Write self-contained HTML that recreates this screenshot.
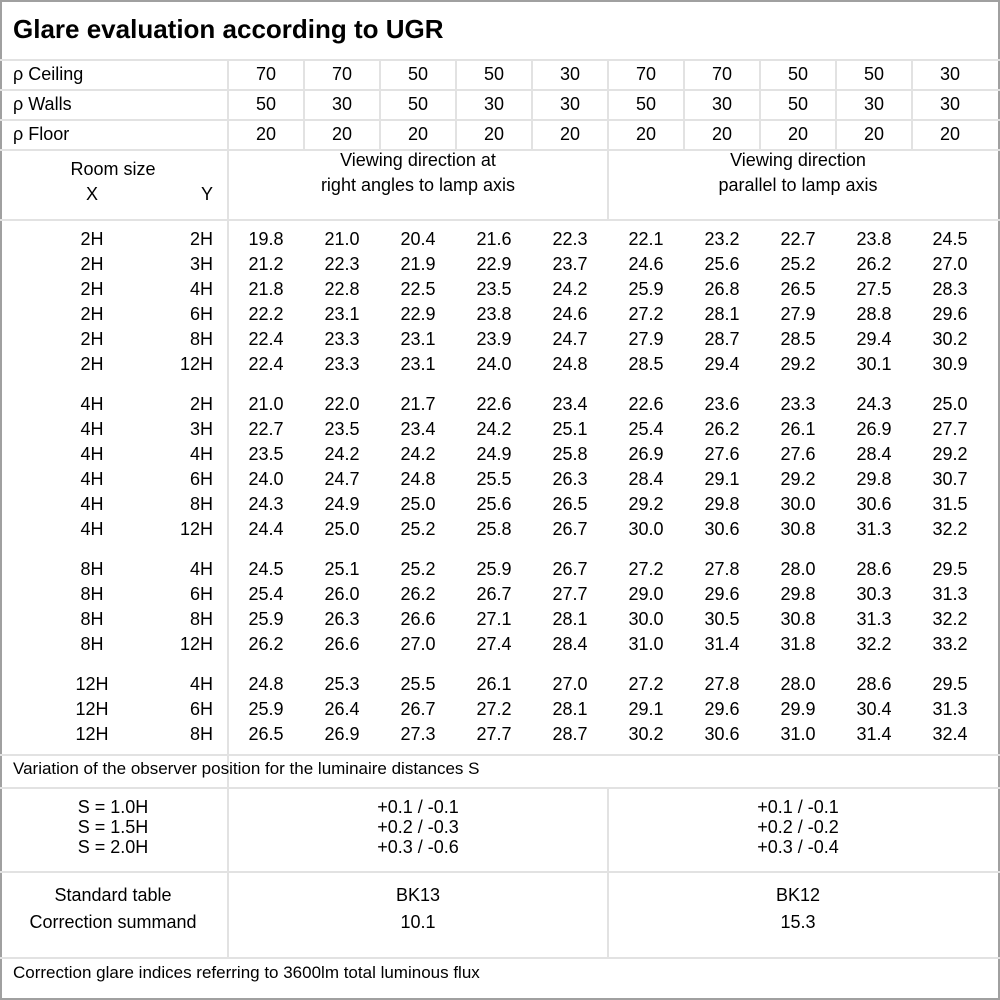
<!DOCTYPE html>
<html><head><meta charset="utf-8"><style>
body{margin:0;background:#fff}
#w{position:relative;width:1000px;height:1000px;overflow:hidden;font-family:"Liberation Sans","DejaVu Sans",sans-serif;font-size:18px;color:#000;background:#fff}
.h{position:absolute;left:0;width:1000px;height:2px;background:#e2e2e2}
.v{position:absolute;width:2px;background:#e2e2e2}
.t{position:absolute;white-space:nowrap;line-height:20px}
.r{position:absolute;left:228px;white-space:nowrap;line-height:20px}
.r span{display:inline-block;width:76px;text-align:center}
.x{position:absolute;left:52px;width:80px;text-align:center;line-height:20px}
.y{position:absolute;left:150px;width:63px;text-align:right;line-height:20px}
.c{position:absolute;text-align:center;line-height:20px}
</style></head><body><div id="w">
<div style="position:absolute;left:0;top:0;width:996px;height:996px;border:2px solid #a0a0a0"></div>
<div class="t" style="left:13px;top:14px;font-size:26px;font-weight:bold;line-height:30px">Glare evaluation according to UGR</div>
<div class="h" style="top:59px"></div><div class="h" style="top:89px"></div><div class="h" style="top:119px"></div><div class="h" style="top:149px"></div><div class="h" style="top:219px"></div>
<div class="h" style="top:754px"></div><div class="h" style="top:787px"></div><div class="h" style="top:871px"></div><div class="h" style="top:957px"></div>
<div class="v" style="left:227px;top:60px;height:898px"></div>
<div class="v" style="left:607px;top:60px;height:160px"></div>
<div class="v" style="left:607px;top:788px;height:170px"></div>
<div class="v" style="left:303px;top:60px;height:90px"></div><div class="v" style="left:379px;top:60px;height:90px"></div><div class="v" style="left:455px;top:60px;height:90px"></div><div class="v" style="left:531px;top:60px;height:90px"></div><div class="v" style="left:683px;top:60px;height:90px"></div><div class="v" style="left:759px;top:60px;height:90px"></div><div class="v" style="left:835px;top:60px;height:90px"></div><div class="v" style="left:911px;top:60px;height:90px"></div>
<div class="t" style="left:13px;top:64px">ρ Ceiling</div>
<div class="t" style="left:13px;top:94px">ρ Walls</div>
<div class="t" style="left:13px;top:124px">ρ Floor</div>
<div class="r" style="top:64px"><span>70</span><span>70</span><span>50</span><span>50</span><span>30</span><span>70</span><span>70</span><span>50</span><span>50</span><span>30</span></div>
<div class="r" style="top:94px"><span>50</span><span>30</span><span>50</span><span>30</span><span>30</span><span>50</span><span>30</span><span>50</span><span>30</span><span>30</span></div>
<div class="r" style="top:124px"><span>20</span><span>20</span><span>20</span><span>20</span><span>20</span><span>20</span><span>20</span><span>20</span><span>20</span><span>20</span></div>
<div class="c" style="left:13px;width:200px;top:159px">Room size</div>
<div class="x" style="top:184px">X</div><div class="y" style="top:184px">Y</div>
<div class="c" style="left:228px;width:380px;top:148px;line-height:25px">Viewing direction at<br>right angles to lamp axis</div>
<div class="c" style="left:608px;width:380px;top:148px;line-height:25px">Viewing direction<br>parallel to lamp axis</div>

<div class="x" style="top:229px">2H</div><div class="y" style="top:229px">2H</div><div class="r" style="top:229px"><span>19.8</span><span>21.0</span><span>20.4</span><span>21.6</span><span>22.3</span><span>22.1</span><span>23.2</span><span>22.7</span><span>23.8</span><span>24.5</span></div>
<div class="x" style="top:254px">2H</div><div class="y" style="top:254px">3H</div><div class="r" style="top:254px"><span>21.2</span><span>22.3</span><span>21.9</span><span>22.9</span><span>23.7</span><span>24.6</span><span>25.6</span><span>25.2</span><span>26.2</span><span>27.0</span></div>
<div class="x" style="top:279px">2H</div><div class="y" style="top:279px">4H</div><div class="r" style="top:279px"><span>21.8</span><span>22.8</span><span>22.5</span><span>23.5</span><span>24.2</span><span>25.9</span><span>26.8</span><span>26.5</span><span>27.5</span><span>28.3</span></div>
<div class="x" style="top:304px">2H</div><div class="y" style="top:304px">6H</div><div class="r" style="top:304px"><span>22.2</span><span>23.1</span><span>22.9</span><span>23.8</span><span>24.6</span><span>27.2</span><span>28.1</span><span>27.9</span><span>28.8</span><span>29.6</span></div>
<div class="x" style="top:329px">2H</div><div class="y" style="top:329px">8H</div><div class="r" style="top:329px"><span>22.4</span><span>23.3</span><span>23.1</span><span>23.9</span><span>24.7</span><span>27.9</span><span>28.7</span><span>28.5</span><span>29.4</span><span>30.2</span></div>
<div class="x" style="top:354px">2H</div><div class="y" style="top:354px">12H</div><div class="r" style="top:354px"><span>22.4</span><span>23.3</span><span>23.1</span><span>24.0</span><span>24.8</span><span>28.5</span><span>29.4</span><span>29.2</span><span>30.1</span><span>30.9</span></div>

<div class="x" style="top:394px">4H</div><div class="y" style="top:394px">2H</div><div class="r" style="top:394px"><span>21.0</span><span>22.0</span><span>21.7</span><span>22.6</span><span>23.4</span><span>22.6</span><span>23.6</span><span>23.3</span><span>24.3</span><span>25.0</span></div>
<div class="x" style="top:419px">4H</div><div class="y" style="top:419px">3H</div><div class="r" style="top:419px"><span>22.7</span><span>23.5</span><span>23.4</span><span>24.2</span><span>25.1</span><span>25.4</span><span>26.2</span><span>26.1</span><span>26.9</span><span>27.7</span></div>
<div class="x" style="top:444px">4H</div><div class="y" style="top:444px">4H</div><div class="r" style="top:444px"><span>23.5</span><span>24.2</span><span>24.2</span><span>24.9</span><span>25.8</span><span>26.9</span><span>27.6</span><span>27.6</span><span>28.4</span><span>29.2</span></div>
<div class="x" style="top:469px">4H</div><div class="y" style="top:469px">6H</div><div class="r" style="top:469px"><span>24.0</span><span>24.7</span><span>24.8</span><span>25.5</span><span>26.3</span><span>28.4</span><span>29.1</span><span>29.2</span><span>29.8</span><span>30.7</span></div>
<div class="x" style="top:494px">4H</div><div class="y" style="top:494px">8H</div><div class="r" style="top:494px"><span>24.3</span><span>24.9</span><span>25.0</span><span>25.6</span><span>26.5</span><span>29.2</span><span>29.8</span><span>30.0</span><span>30.6</span><span>31.5</span></div>
<div class="x" style="top:519px">4H</div><div class="y" style="top:519px">12H</div><div class="r" style="top:519px"><span>24.4</span><span>25.0</span><span>25.2</span><span>25.8</span><span>26.7</span><span>30.0</span><span>30.6</span><span>30.8</span><span>31.3</span><span>32.2</span></div>

<div class="x" style="top:559px">8H</div><div class="y" style="top:559px">4H</div><div class="r" style="top:559px"><span>24.5</span><span>25.1</span><span>25.2</span><span>25.9</span><span>26.7</span><span>27.2</span><span>27.8</span><span>28.0</span><span>28.6</span><span>29.5</span></div>
<div class="x" style="top:584px">8H</div><div class="y" style="top:584px">6H</div><div class="r" style="top:584px"><span>25.4</span><span>26.0</span><span>26.2</span><span>26.7</span><span>27.7</span><span>29.0</span><span>29.6</span><span>29.8</span><span>30.3</span><span>31.3</span></div>
<div class="x" style="top:609px">8H</div><div class="y" style="top:609px">8H</div><div class="r" style="top:609px"><span>25.9</span><span>26.3</span><span>26.6</span><span>27.1</span><span>28.1</span><span>30.0</span><span>30.5</span><span>30.8</span><span>31.3</span><span>32.2</span></div>
<div class="x" style="top:634px">8H</div><div class="y" style="top:634px">12H</div><div class="r" style="top:634px"><span>26.2</span><span>26.6</span><span>27.0</span><span>27.4</span><span>28.4</span><span>31.0</span><span>31.4</span><span>31.8</span><span>32.2</span><span>33.2</span></div>

<div class="x" style="top:674px">12H</div><div class="y" style="top:674px">4H</div><div class="r" style="top:674px"><span>24.8</span><span>25.3</span><span>25.5</span><span>26.1</span><span>27.0</span><span>27.2</span><span>27.8</span><span>28.0</span><span>28.6</span><span>29.5</span></div>
<div class="x" style="top:699px">12H</div><div class="y" style="top:699px">6H</div><div class="r" style="top:699px"><span>25.9</span><span>26.4</span><span>26.7</span><span>27.2</span><span>28.1</span><span>29.1</span><span>29.6</span><span>29.9</span><span>30.4</span><span>31.3</span></div>
<div class="x" style="top:724px">12H</div><div class="y" style="top:724px">8H</div><div class="r" style="top:724px"><span>26.5</span><span>26.9</span><span>27.3</span><span>27.7</span><span>28.7</span><span>30.2</span><span>30.6</span><span>31.0</span><span>31.4</span><span>32.4</span></div>

<div class="t" style="left:13px;top:759px;font-size:17px">Variation of the observer position for the luminaire distances S</div>
<div class="c" style="left:13px;width:200px;top:797px;line-height:20px">S = 1.0H<br>S = 1.5H<br>S = 2.0H</div>
<div class="c" style="left:228px;width:380px;top:797px;line-height:20px">+0.1 / -0.1<br>+0.2 / -0.3<br>+0.3 / -0.6</div>
<div class="c" style="left:608px;width:380px;top:797px;line-height:20px">+0.1 / -0.1<br>+0.2 / -0.2<br>+0.3 / -0.4</div>
<div class="c" style="left:13px;width:200px;top:882px;line-height:27px">Standard table<br>Correction summand</div>
<div class="c" style="left:228px;width:380px;top:882px;line-height:27px">BK13<br>10.1</div>
<div class="c" style="left:608px;width:380px;top:882px;line-height:27px">BK12<br>15.3</div>
<div class="t" style="left:13px;top:963px;font-size:17px">Correction glare indices referring to 3600lm total luminous flux</div>
</div></body></html>
